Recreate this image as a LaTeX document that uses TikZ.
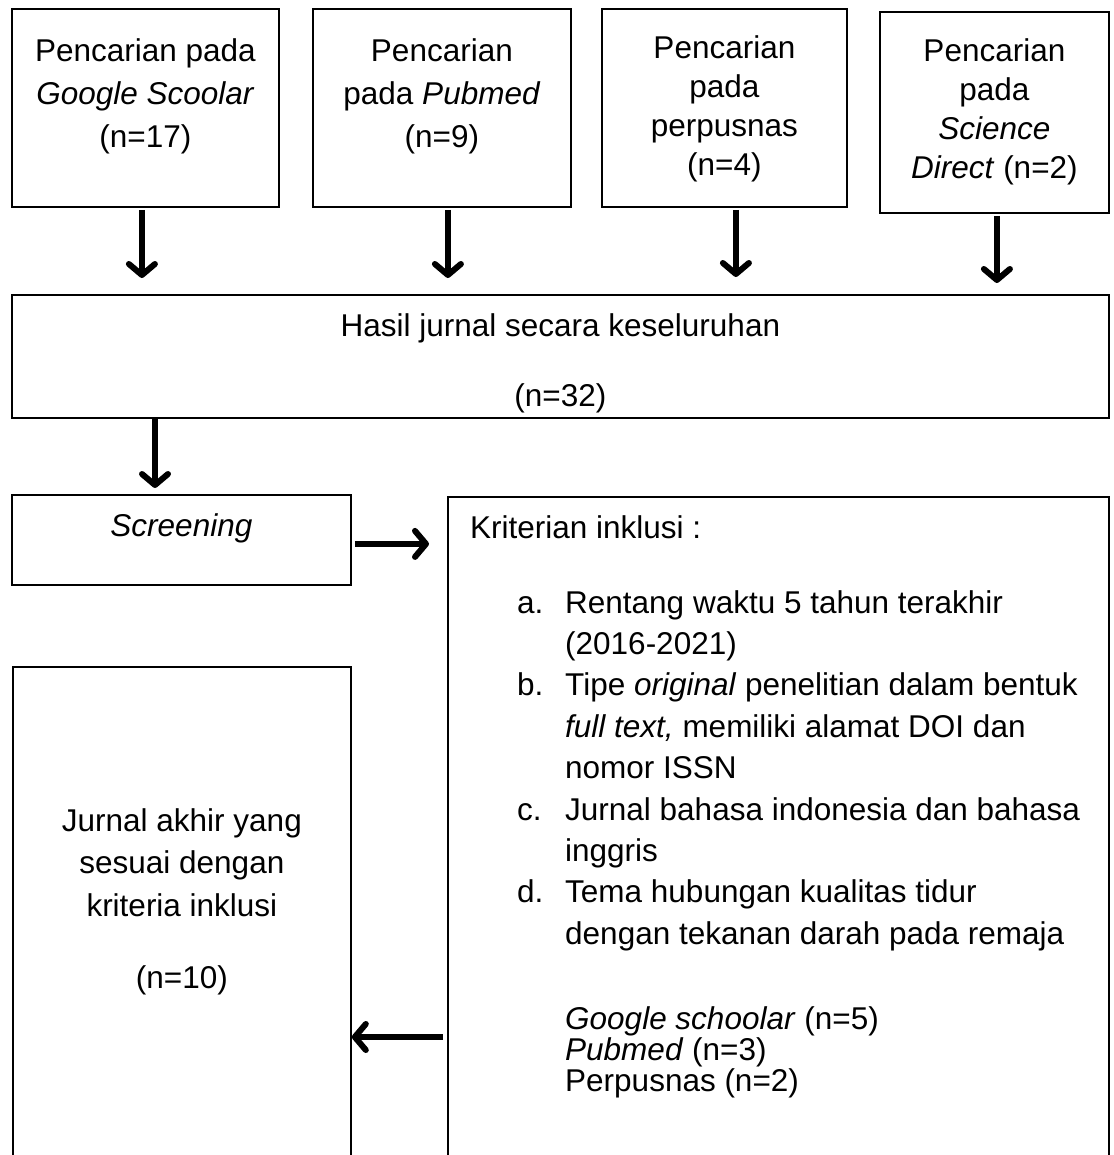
\documentclass[tikz,border=0pt]{standalone}
\usepackage{fontspec}
\setmainfont{Liberation Sans}
\usetikzlibrary{positioning,arrows.meta}

\begin{document}
\begin{tikzpicture}[x=1pt,y=-1pt,-]
    \tikzstyle{kotak}=[rectangle,draw=black,line width=1.8pt,anchor=north west,inner sep=0pt]
    \tikzstyle{teks}=[align=center,inner sep=0pt,font=\fontsize{31.5}{43}\selectfont]
    \tikzstyle{panah}=[line width=6pt,-{Straight Barb[length=11pt,width=26pt,line width=6pt,round]}]
    \useasboundingbox (0,0) rectangle (1113,1155);

    % kotak pencarian
    \foreach \num/\x/\y/\w/\h in {1/11/8/267/198, 2/312/8/258/198, 3/601/8/245/198, 4/879/11/229/201}
        \node[kotak,minimum width=\w pt,minimum height=\h pt] (cari-\num) at (\x,\y) {};

    \node[teks,below=30pt of cari-1.north] (teks-1) {Pencarian pada\\ \textit{Google Scoolar}\\ (n=17)};
    \node[teks,below=30pt of cari-2.north] (teks-2) {Pencarian\\ pada \textit{Pubmed}\\ (n=9)};
    \node[teks,font=\fontsize{31.5}{39}\selectfont,below=27pt of cari-3.north] (teks-3) {Pencarian\\ pada\\ perpusnas\\ (n=4)};
    \node[teks,font=\fontsize{31.5}{39}\selectfont,below=27pt of cari-4.north] (teks-4) {Pencarian\\ pada\\ \textit{Science}\\ \textit{Direct} (n=2)};

    \node[kotak,minimum width=1097pt,minimum height=123pt] (hasil) at (11,294) {};
    \node[teks,below=19pt of hasil.north] (teks-hasil) {Hasil jurnal secara keseluruhan\\[27pt] (n=32)};

    \node[kotak,minimum width=339pt,minimum height=90pt] (screening) at (11,494) {};
    \node[teks,below=19pt of screening.north] (teks-screening) {\textit{Screening}};

    \node[kotak,minimum width=661pt,minimum height=800pt] (kriteria) at (447,496) {};
    \node[teks,below right=19pt and 23pt of kriteria.north west] (judul-kriteria) {Kriterian inklusi :};
    \node[teks,align=left,font=\fontsize{31.5}{41.4}\selectfont,below right=94pt and 70pt of kriteria.north west] (daftar) {%
        \makebox[48pt][l]{a.}Rentang waktu 5 tahun terakhir\\
        \hspace*{48pt}(2016-2021)\\
        \makebox[48pt][l]{b.}Tipe \textit{original} penelitian dalam bentuk\\
        \hspace*{48pt}\textit{full text,} memiliki alamat DOI dan\\
        \hspace*{48pt}nomor ISSN\\
        \makebox[48pt][l]{c.}Jurnal bahasa indonesia dan bahasa\\
        \hspace*{48pt}inggris\\
        \makebox[48pt][l]{d.}Tema hubungan kualitas tidur\\
        \hspace*{48pt}dengan tekanan darah pada remaja};
    \node[teks,align=left,font=\fontsize{31.5}{31}\selectfont,below right=510pt and 118pt of kriteria.north west] (sumber) {%
        \textit{Google schoolar} (n=5)\\
        \textit{Pubmed} (n=3)\\
        Perpusnas (n=2)};

    \node[kotak,minimum width=338pt,minimum height=700pt] (akhir) at (12,666) {};
    \node[teks,font=\fontsize{31.5}{42.5}\selectfont,below=142pt of akhir.north] (teks-akhir) {Jurnal akhir yang\\ sesuai dengan\\ kriteria inklusi\\[30pt] (n=10)};

    % panah
    \foreach \num/\dx/\gap in {1/-3.5/16, 2/6/16, 3/11.5/17, 4/2.5/11}
        \draw[panah,shorten <=2pt,shorten >=\gap pt] ([xshift=\dx pt]cari-\num.south) -- ([xshift=\dx pt]cari-\num.south |- hasil.north);

    \draw[panah,shorten >=6pt] ([xshift=144pt]hasil.south west) -- ([xshift=144pt]hasil.south west |- screening.north);
    \draw[panah,shorten <=3pt,shorten >=18pt] ([yshift=-4pt]screening.east) -- ([yshift=-4pt]screening.east -| kriteria.west);
    \coordinate (balik) at (0,1037);
    \draw[panah,shorten <=4pt] (kriteria.west |- balik) -- (akhir.east |- balik);
\end{tikzpicture}
\end{document}
